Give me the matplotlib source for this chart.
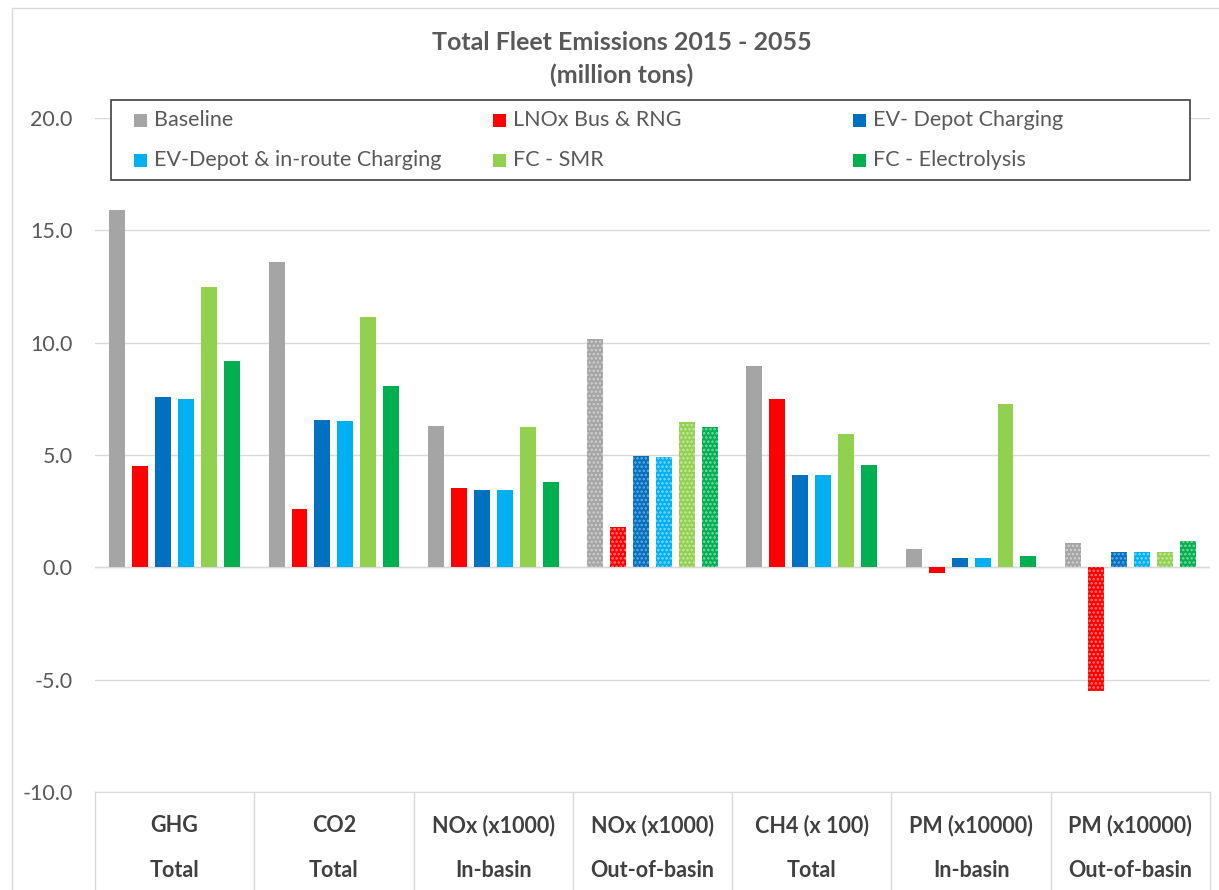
import numpy as np
import matplotlib.pyplot as plt
from matplotlib.patches import Rectangle
import matplotlib.transforms as mtransforms

plt.rcParams['font.family'] = ['Lato', 'DejaVu Sans']
plt.rcParams['hatch.linewidth'] = 1.2

# data
measures = ['GHG', 'CO2', 'NOx (x1000)', 'NOx (x1000)', 'CH4 (x 100)', 'PM (x10000)', 'PM (x10000)']
scopes = ['Total', 'Total', 'In-basin', 'Out-of-basin', 'Total', 'In-basin', 'Out-of-basin']
hatched = [False, False, False, True, False, False, True]

series = ['Baseline', 'LNOx Bus & RNG', 'EV- Depot Charging',
          'EV-Depot & in-route Charging', 'FC - SMR', 'FC - Electrolysis']
colors = ['#a5a5a5', '#ff0000', '#0070c0', '#00b0f0', '#92d050', '#00b050']
light = ['#d0d0d0', '#ff8080', '#6fa8dc', '#80d8f8', '#c8e8a8', '#80d8a8']

baseline = [15.9, 13.6, 6.3, 10.15, 8.95, 0.8, 1.1]
lnox = [4.5, 2.6, 3.55, 1.78, 7.48, -0.25, -5.5]
ev_depot = [7.6, 6.55, 3.43, 4.95, 4.1, 0.4, 0.7]
ev_route = [7.5, 6.5, 3.43, 4.9, 4.1, 0.4, 0.7]
fc_smr = [12.5, 11.15, 6.24, 6.45, 5.95, 7.25, 0.7]
fc_elec = [9.2, 8.05, 3.8, 6.24, 4.55, 0.5, 1.15]
values = [baseline, lnox, ev_depot, ev_route, fc_smr, fc_elec]

W, H = 1219, 890
fig = plt.figure(figsize=(W / 100, H / 100), dpi=100)
ax = fig.add_axes([95 / W, 98 / H, 1115 / W, 674 / H])

x = np.arange(len(measures))
step = 0.144
width = 0.1
for i, (name, vals) in enumerate(zip(series, values)):
    pos = x + (i - 2.5) * step
    for j in range(len(x)):
        if hatched[j]:
            ax.bar(pos[j], vals[j], width, color=colors[i], edgecolor=light[i],
                   linewidth=0, hatch='....', zorder=3)
        else:
            ax.bar(pos[j], vals[j], width, color=colors[i], linewidth=0, zorder=3)

ax.set_xlim(-0.5, len(x) - 0.5)
ax.set_ylim(-10, 20)
ax.set_yticks(np.arange(-10, 20.1, 5))
ax.set_yticklabels(['%.1f' % v for v in np.arange(-10, 20.1, 5)],
                   fontsize=15.5, color='#595959')
ax.tick_params(axis='y', length=0, pad=16)
ax.set_xticks([])
ax.grid(axis='y', color='#d9d9d9', linewidth=1, zorder=0)
for s in ['top', 'right', 'left']:
    ax.spines[s].set_visible(False)
ax.spines['bottom'].set_color('#d9d9d9')
ax.axhline(0, color='#d9d9d9', linewidth=1, zorder=2)

# category table below the axis
trans = mtransforms.blended_transform_factory(ax.transData, ax.transAxes)
for b in np.arange(-0.5, len(x), 1.0):
    ax.plot([b, b], [0, -0.146], transform=trans, color='#d9d9d9',
            linewidth=1, clip_on=False)
for j in range(len(x)):
    ax.text(x[j], -0.050, measures[j], transform=trans, ha='center', va='center',
            fontsize=15.5, fontweight='bold', color='#404040')
    ax.text(x[j], -0.116, scopes[j], transform=trans, ha='center', va='center',
            fontsize=15.5, fontweight='bold', color='#404040')

fig.text(622 / W, 1 - 42 / H, 'Total Fleet Emissions 2015 - 2055', ha='center',
         va='center', fontsize=18, fontweight='bold', color='#595959')
fig.text(622 / W, 1 - 75 / H, '(million tons)', ha='center',
         va='center', fontsize=18, fontweight='bold', color='#595959')

# legend box, laid out row by row like the original
fig.patches.append(Rectangle((111 / W, 1 - 180 / H), 1079 / W, 80 / H,
                             transform=fig.transFigure, facecolor='white',
                             edgecolor='#404040', linewidth=1.2, zorder=5))
col_x = [134, 493, 853]
row_y = [120, 160]
for k, (name, c) in enumerate(zip(series, colors)):
    cx = col_x[k % 3]
    cy = row_y[k // 3]
    fig.patches.append(Rectangle((cx / W, 1 - (cy + 7) / H), 13 / W, 13 / H,
                                 transform=fig.transFigure, facecolor=c,
                                 linewidth=0, zorder=6))
    fig.text((cx + 20) / W, 1 - cy / H, name, ha='left', va='center',
             fontsize=15.5, color='#595959', zorder=7)

fig.patches.append(Rectangle((12 / W, -0.01), 1.02, 1 - 8 / H + 0.01,
                             transform=fig.transFigure, fill=False,
                             edgecolor='#d9d9d9', linewidth=1))

fig.savefig('out.png', dpi=100)
